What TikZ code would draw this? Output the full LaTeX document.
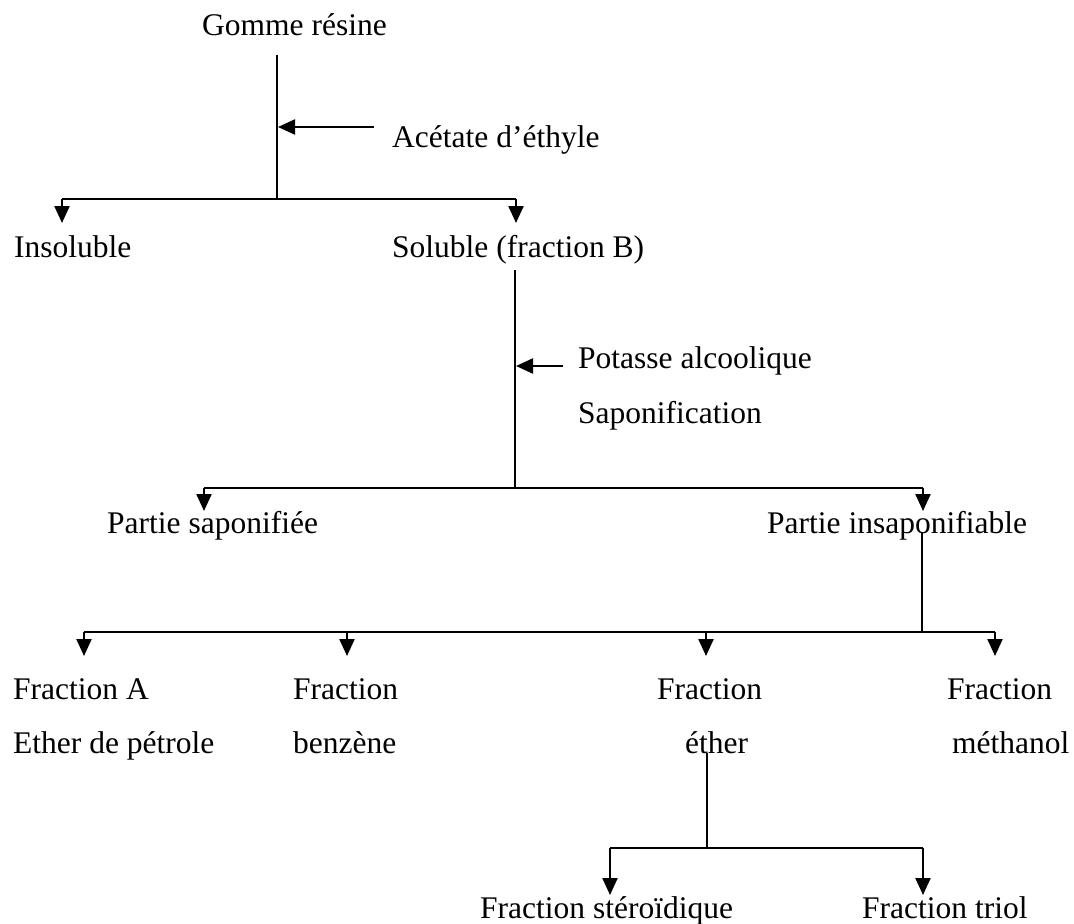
\documentclass[tikz,border=0pt]{standalone}
\usepackage{fontspec}
\setmainfont{Liberation Serif}
\usetikzlibrary{arrows.meta}
\begin{document}
\begin{tikzpicture}[x=1pt,y=-1pt,
  lbl/.style={anchor=base west,inner sep=0pt,font=\fontsize{31.5}{36}\selectfont},
  ln/.style={line width=2.3pt},
  arr/.style={line width=2.3pt,-{Triangle[length=17pt,width=15pt]}}]
\useasboundingbox[fill=white] (0,0) rectangle (1074,924);
% texts
\node[lbl] (gomme) at (202,35) {Gomme résine};
\node[lbl] (acet) at (392,147) {Acétate d’éthyle};
\node[lbl] (insol) at (14,257) {Insoluble};
\node[lbl] (sol) at (392,257) {Soluble (fraction B)};
\node[lbl] (pot) at (578,368) {Potasse alcoolique};
\node[lbl] (sapo) at (578,423) {Saponification};
\node[lbl] (psap) at (107,533) {Partie saponifiée};
\node[lbl] (pins) at (767,533) {Partie insaponifiable};
\node[lbl] (fa1) at (13,699) {Fraction A};
\node[lbl] (fa2) at (13,753) {Ether de pétrole};
\node[lbl] (fb1) at (293,699) {Fraction};
\node[lbl] (fb2) at (293,753) {benzène};
\node[lbl] (fe1) at (657,699) {Fraction};
\node[lbl] (fe2) at (685,753) {éther};
\node[lbl] (fm1) at (947,699) {Fraction};
\node[lbl] (fm2) at (952,753) {méthanol};
\node[lbl] (fst) at (480,918) {Fraction stéroïdique};
\node[lbl] (ftr) at (862,918) {Fraction triol};
% coordinates
\coordinate (g0) at (277,55);
\coordinate (g1) at (277,199);
\coordinate (ga) at (278,127);
\coordinate (gat) at (374,127);
\coordinate (h1L) at (62,199);
\coordinate (h1R) at (516,199);
\coordinate (t1L) at (62,223);
\coordinate (t1R) at (516,223);
\coordinate (s0) at (515,270);
\coordinate (s1) at (515,488);
\coordinate (sa) at (516,366);
\coordinate (sat) at (563,366);
\coordinate (h2L) at (204,488);
\coordinate (h2R) at (923,488);
\coordinate (t2L) at (204,511);
\coordinate (t2R) at (923,511);
\coordinate (p0) at (922,533);
\coordinate (p1) at (922,632);
\coordinate (h3a) at (84,632);
\coordinate (h3b) at (347,632);
\coordinate (h3c) at (706,632);
\coordinate (h3d) at (995,632);
\coordinate (t3a) at (84,656);
\coordinate (t3b) at (347,656);
\coordinate (t3c) at (706,656);
\coordinate (t3d) at (995,656);
\coordinate (e0) at (707,753);
\coordinate (e1) at (707,848);
\coordinate (h4L) at (610,848);
\coordinate (h4R) at (923,848);
\coordinate (t4L) at (610,895);
\coordinate (t4R) at (923,895);
% connectors
\draw[ln] (g0) -- (g1);
\draw[arr] (gat) -- (ga);
\draw[ln] (h1L) -- (h1R);
\draw[arr] (h1L) -- (t1L);
\draw[arr] (h1R) -- (t1R);
\draw[ln] (s0) -- (s1);
\draw[arr] (sat) -- (sa);
\draw[ln] (h2L) -- (h2R);
\draw[arr] (h2L) -- (t2L);
\draw[arr] (h2R) -- (t2R);
\draw[ln] (p0) -- (p1);
\draw[ln] (h3a) -- (h3d);
\draw[arr] (h3a) -- (t3a);
\draw[arr] (h3b) -- (t3b);
\draw[arr] (h3c) -- (t3c);
\draw[arr] (h3d) -- (t3d);
\draw[ln] (e0) -- (e1);
\draw[ln] (h4L) -- (h4R);
\draw[arr] (h4L) -- (t4L);
\draw[arr] (h4R) -- (t4R);
\end{tikzpicture}
\end{document}
